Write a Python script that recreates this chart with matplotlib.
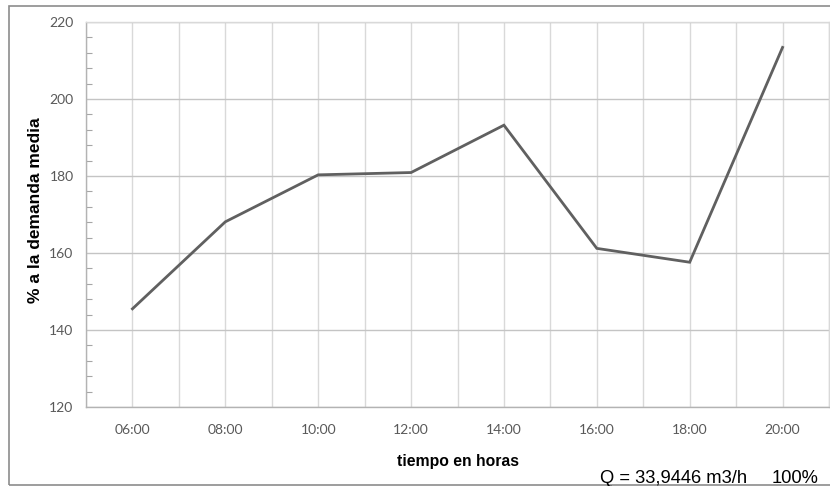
import matplotlib
matplotlib.use("Agg")
import matplotlib.pyplot as plt
from matplotlib.patches import Rectangle
from matplotlib.ticker import MultipleLocator, FixedLocator

# Hourly demand as a percentage of mean demand
time_labels = ["06:00", "08:00", "10:00", "12:00", "14:00", "16:00", "18:00", "20:00"]
demand_pct = [145.5, 168.1, 180.3, 180.9, 193.2, 161.2, 157.6, 213.4]
y_ticks = [120, 140, 160, 180, 200, 220]

hours = [int(t.split(":")[0]) for t in time_labels]

W, H = 830, 486
fig = plt.figure(figsize=(W / 100, H / 100), dpi=100)
ax = fig.add_axes([86 / W, 1 - 407 / H, (829 - 86) / W, (407 - 22) / H])

tick_font = "Lato"
title_font = "Liberation Sans"
tick_color = "#595959"

ax.plot(hours, demand_pct, color="#606060", lw=2.0, solid_joinstyle="miter", zorder=3)

ax.set_xlim(5, 21)
ax.set_ylim(120, 220)

# vertical grid every hour, labels every two hours
ax.xaxis.set_major_locator(FixedLocator(hours))
ax.set_xticklabels(time_labels)
ax.xaxis.set_minor_locator(MultipleLocator(1))
ax.grid(True, which="minor", axis="x", color="#d9d9d9", lw=1.0, zorder=0)
ax.grid(True, which="major", axis="x", color="#d9d9d9", lw=1.0, zorder=0)
ax.tick_params(axis="x", which="both", length=0, pad=12.5,
               labelsize=10, labelcolor=tick_color)

ax.yaxis.set_major_locator(FixedLocator(y_ticks))
ax.yaxis.set_minor_locator(MultipleLocator(4))
ax.grid(True, which="major", axis="y", color="#c4c4c4", lw=1.0, zorder=0)
ax.tick_params(axis="y", which="major", length=0, pad=9,
               labelsize=10, labelcolor=tick_color)
ax.tick_params(axis="y", which="minor", length=4, width=0.8,
               direction="in", color="#a6a6a6")

for lbl in ax.get_xticklabels() + ax.get_yticklabels():
    lbl.set_fontfamily(tick_font)

for side in ("left", "bottom"):
    ax.spines[side].set_color("#b3b3b3")
    ax.spines[side].set_linewidth(1.0)
for side in ("top", "right"):
    ax.spines[side].set_color("#d9d9d9")
    ax.spines[side].set_linewidth(1.0)

# axis titles
fig.text(36 / W, 1 - 210 / H, "% a la demanda media", rotation=90,
         ha="center", va="center", fontsize=12.5, fontweight="bold",
         family=title_font, color="#000000")
fig.text(457.5 / W, 1 - 466 / H, "tiempo en horas", ha="center", va="baseline",
         fontsize=11.3, fontweight="bold", family=title_font, color="#000000")

# flow annotation
fig.text(600 / W, 1 - 483 / H, "Q = 33,9446 m3/h", ha="left", va="baseline",
         fontsize=13.2, family=title_font, color="#000000")
fig.text(818 / W, 1 - 483 / H, "100%", ha="right", va="baseline",
         fontsize=13.2, family=title_font, color="#000000")

# chart frame
fig.patches.append(Rectangle((9 / W, 1 - 485 / H), 1.0, (485 - 6) / H,
                             transform=fig.transFigure, fill=False,
                             edgecolor="#8c8c8c", lw=1.2, zorder=0))

fig.savefig("out.png", dpi=100)
